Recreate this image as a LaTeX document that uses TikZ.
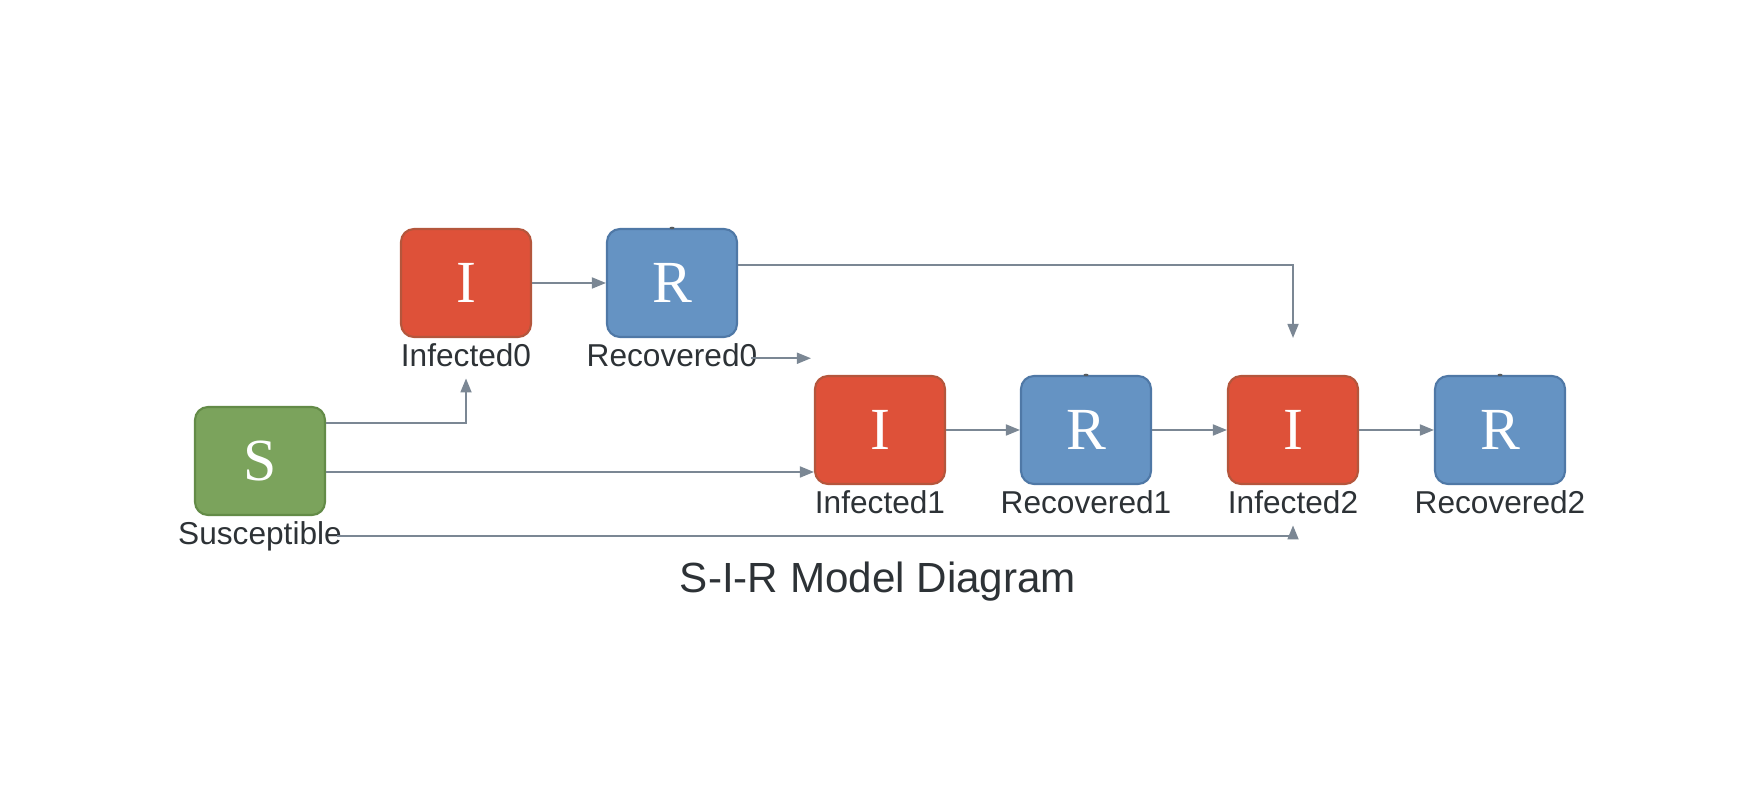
\documentclass[tikz,border=0pt]{standalone}
\usepackage{fontspec}
\setmainfont{Liberation Sans}
\newfontfamily\boxfont{Liberation Serif}
\usetikzlibrary{arrows.meta,positioning}
\definecolor{infred}{HTML}{DE5139}
\definecolor{infedge}{HTML}{B4563C}
\definecolor{recblue}{HTML}{6593C3}
\definecolor{recedge}{HTML}{4F78A6}
\definecolor{susgreen}{HTML}{7BA35C}
\definecolor{susedge}{HTML}{638B47}
\definecolor{linkgray}{HTML}{7B8794}
\definecolor{txtdark}{HTML}{2D3236}
\begin{document}
\begin{tikzpicture}
  [box/.style={rectangle,rounded corners=0.13cm,minimum width=1.3cm,minimum height=1.08cm,
     line width=0.6pt,text=white,font=\boxfont\fontsize{17}{17}\selectfont},
   inf/.style={box,fill=infred,draw=infedge},
   rec/.style={box,fill=recblue,draw=recedge},
   sus/.style={box,fill=susgreen,draw=susedge},
   lbl/.style={text=txtdark,font=\fontsize{9}{9}\selectfont,inner sep=0.05cm,
     text height=0.23cm,text depth=0.06cm},
   flow/.style={draw=linkgray,line width=0.5pt,-{Triangle[length=0.14cm,width=0.11cm]}}]
  \useasboundingbox (0,0) rectangle (17.59,8.03);
  \node[sus] (S) at (2.60,3.42) {S};
  \node[inf] (I0) at (4.66,5.20) {I};
  \node[rec] (R0) at (6.72,5.20) {R};
  \node[inf] (I1) at (8.80,3.73) {I};
  \node[rec] (R1) at (10.86,3.73) {R};
  \node[inf] (I2) at (12.93,3.73) {I};
  \node[rec] (R2) at (15.00,3.73) {R};
  \node[lbl,below=0pt of S] (Sl) {Susceptible};
  \node[lbl,below=0pt of I0] (I0l) {Infected0};
  \node[lbl,below=0pt of R0] (R0l) {Recovered0};
  \node[lbl,below=0pt of I1] (I1l) {Infected1};
  \node[lbl,below=0pt of R1] (R1l) {Recovered1};
  \node[lbl,below=0pt of I2] (I2l) {Infected2};
  \node[lbl,below=0pt of R2] (R2l) {Recovered2};
  \node[text=txtdark,font=\fontsize{12}{12}\selectfont] (title) at (8.78,2.21) {S-I-R Model Diagram};
  % small marks on top of the R boxes
  \foreach \r in {R0,R1,R2}
    \fill[txtdark!80] (\r.north) ellipse (0.025cm and 0.012cm);
  \coordinate (c1) at ([xshift=-0.03cm]R0l.east -| I1.west);
  \coordinate (c2) at ([yshift=0.37cm]I2.north);
  \foreach \from/\to in {I0/R0,I1/R1,R1/I2,I2/R2}
    \draw[flow] (\from) -- (\to);
  \draw[flow] ([yshift=0.18cm]R0.east) -| (c2);
  \draw[flow] ([xshift=-0.12cm]R0l.east) -- (c1);
  \draw[flow] ([yshift=0.38cm]S.east) -| (I0l.south);
  \draw[flow] ([yshift=-0.11cm]S.east) -- ([yshift=-0.11cm]S.east -| I1.west);
  \draw[flow] ([xshift=-0.1cm]Sl.east) -| (I2l.south);

\end{tikzpicture}
\end{document}
